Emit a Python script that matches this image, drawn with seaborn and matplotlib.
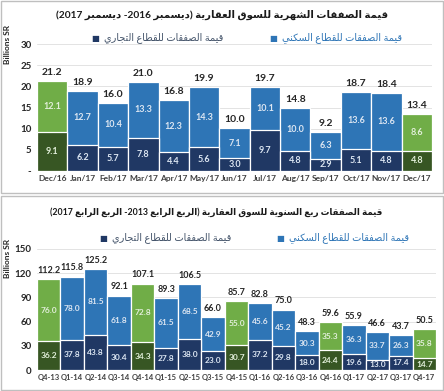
import matplotlib
matplotlib.use("Agg")
import matplotlib.pyplot as plt
import seaborn as sns
import pandas as pd
from matplotlib.patches import Rectangle

# ---------------- data ----------------
months = ['Dec/16', 'Jan/17', 'Feb/17', 'Mar/17', 'Apr/17', 'May/17', 'Jun/17',
          'Jul/17', 'Aug/17', 'Sep/17', 'Oct/17', 'Nov/17', 'Dec/17']
monthly_commercial = [9.1, 6.2, 5.7, 7.8, 4.4, 5.6, 3.0, 9.7, 4.8, 2.9, 5.1, 4.8, 4.8]
monthly_residential = [12.1, 12.7, 10.4, 13.3, 12.3, 14.3, 7.1, 10.1, 10.0, 6.3, 13.6, 13.6, 8.6]
monthly_total = [21.2, 18.9, 16.0, 21.0, 16.8, 19.9, 10.0, 19.7, 14.8, 9.2, 18.7, 18.4, 13.4]

quarters = ['Q4-13', 'Q1-14', 'Q2-14', 'Q3-14', 'Q4-14', 'Q1-15', 'Q2-15', 'Q3-15',
            'Q4-15', 'Q1-16', 'Q2-16', 'Q3-16', 'Q4-16', 'Q1-17', 'Q2-17', 'Q3-17', 'Q4-17']
quarterly_commercial = [36.2, 37.8, 43.8, 30.4, 34.3, 27.8, 38.0, 23.0, 30.7, 37.2,
                        29.8, 18.0, 24.4, 19.6, 13.0, 17.4, 14.7]
quarterly_residential = [76.0, 78.0, 81.5, 61.8, 72.8, 61.5, 68.5, 42.9, 55.0, 45.6,
                         45.2, 30.3, 35.3, 36.3, 33.7, 26.3, 35.8]
quarterly_total = [112.2, 115.8, 125.2, 92.1, 107.1, 89.3, 106.5, 66.0, 85.7, 82.8,
                   75.0, 48.3, 59.6, 55.9, 46.6, 43.7, 50.5]

title_monthly = "قيمة الصفقات الشهرية للسوق العقارية (ديسمبر 2016- ديسمبر 2017)"
title_quarterly = "قيمة الصفقات ربع السنوية للسوق العقارية (الربع الرابع 2013- الربع الرابع 2017)"
label_residential = "قيمة الصفقات للقطاع السكني"
label_commercial = "قيمة الصفقات للقطاع التجاري"
y_label = "Billions SR"
monthly_yticks = [0, 5, 10, 15, 20, 25, 30]
monthly_yticklabels = ['-', '5', '10', '15', '20', '25', '30']
quarterly_yticks = [0, 30, 60, 90, 120, 150]
quarterly_yticklabels = ['0', '30', '60', '90', '120', '150']

# ---------------- Arabic shaping (presentation forms) ----------------
FORMS = {  # isolated, final, initial, medial
    'ا': ('\uFE8D', '\uFE8E', None, None),
    'ب': ('\uFE8F', '\uFE90', '\uFE91', '\uFE92'),
    'ة': ('\uFE93', '\uFE94', None, None),
    'ت': ('\uFE95', '\uFE96', '\uFE97', '\uFE98'),
    'ج': ('\uFE9D', '\uFE9E', '\uFE9F', '\uFEA0'),
    'د': ('\uFEA9', '\uFEAA', None, None),
    'ر': ('\uFEAD', '\uFEAE', None, None),
    'س': ('\uFEB1', '\uFEB2', '\uFEB3', '\uFEB4'),
    'ش': ('\uFEB5', '\uFEB6', '\uFEB7', '\uFEB8'),
    'ص': ('\uFEB9', '\uFEBA', '\uFEBB', '\uFEBC'),
    'ط': ('\uFEC1', '\uFEC2', '\uFEC3', '\uFEC4'),
    'ع': ('\uFEC9', '\uFECA', '\uFECB', '\uFECC'),
    'ف': ('\uFED1', '\uFED2', '\uFED3', '\uFED4'),
    'ق': ('\uFED5', '\uFED6', '\uFED7', '\uFED8'),
    'ك': ('\uFED9', '\uFEDA', '\uFEDB', '\uFEDC'),
    'ل': ('\uFEDD', '\uFEDE', '\uFEDF', '\uFEE0'),
    'م': ('\uFEE1', '\uFEE2', '\uFEE3', '\uFEE4'),
    'ن': ('\uFEE5', '\uFEE6', '\uFEE7', '\uFEE8'),
    'ه': ('\uFEE9', '\uFEEA', '\uFEEB', '\uFEEC'),
    'و': ('\uFEED', '\uFEEE', None, None),
    'ي': ('\uFEF1', '\uFEF2', '\uFEF3', '\uFEF4'),
}


def shape_rtl(s):
    out = []
    n = len(s)
    for i, c in enumerate(s):
        if c not in FORMS:
            out.append(c)
            continue
        prev_c = s[i - 1] if i > 0 else ''
        next_c = s[i + 1] if i < n - 1 else ''
        prev_join = prev_c in FORMS and FORMS[prev_c][2] is not None
        can_next = FORMS[c][2] is not None
        next_join = can_next and next_c in FORMS
        iso, fin, ini, med = FORMS[c]
        if prev_join and next_join:
            out.append(med)
        elif prev_join:
            out.append(fin)
        elif next_join:
            out.append(ini)
        else:
            out.append(iso)
    vis = ''.join(out)[::-1]
    res, buf = [], []
    for ch in vis:
        if ch.isdigit():
            buf.append(ch)
        else:
            if buf:
                res.append(''.join(buf[::-1]))
                buf = []
            res.append({'(': ')', ')': '('}.get(ch, ch))
    if buf:
        res.append(''.join(buf[::-1]))
    return ''.join(res)


# ---------------- style ----------------
sns.set_theme(style="white")
plt.rcParams['font.family'] = ['Lato', 'DejaVu Sans']

C_COMM = '#203864'
C_RES = '#2e75b6'
C_GRES = '#70ad47'
C_GCOMM = '#375623'
TXT_DARK = '#262626'

fig = plt.figure(figsize=(4.44, 3.91), dpi=100)
W, H = 444.0, 391.0

fig.patches.append(Rectangle((1 / W, 1 - 193 / H), 442 / W, 192 / H, transform=fig.transFigure,
                             fill=False, edgecolor='#bfbfbf', linewidth=1.0))
fig.patches.append(Rectangle((1 / W, 1 / H), 442 / W, 194 / H, transform=fig.transFigure,
                             fill=False, edgecolor='#bfbfbf', linewidth=1.0))


def panel(ax, cats, comm, res, tot, highlight, yticks, yticklabels, ymax,
          fs_in, fs_tot, fs_x):
    stacked = [a + b for a, b in zip(comm, res)]
    res_cols = [C_GRES if h else C_RES for h in highlight]
    comm_cols = [C_GCOMM if h else C_COMM for h in highlight]
    df = pd.DataFrame({'cat': cats, 'stack': stacked, 'comm': comm})
    sns.barplot(data=df, x='cat', y='stack', hue='cat', palette=res_cols, width=1.0,
                saturation=1, edgecolor='white', linewidth=0.9, legend=False, ax=ax,
                zorder=2)
    sns.barplot(data=df, x='cat', y='comm', hue='cat', palette=comm_cols, width=1.0,
                saturation=1, edgecolor='white', linewidth=0.9, legend=False, ax=ax,
                zorder=3)
    for i in range(len(cats)):
        inner = '#e2efda' if highlight[i] else '#dce6f2'
        ax.text(i, comm[i] / 2, f"{comm[i]:.1f}", ha='center', va='center',
                fontsize=fs_in, color=inner, fontweight='bold', zorder=5)
        ax.text(i, comm[i] + res[i] / 2, f"{res[i]:.1f}", ha='center', va='center',
                fontsize=fs_in, color=inner, fontweight='bold', zorder=5)
        ax.annotate(f"{tot[i]:.1f}", (i, stacked[i]), xytext=(0, 3),
                    textcoords='offset points', ha='center', va='bottom',
                    fontsize=fs_tot, color=TXT_DARK, fontweight='bold')
    ax.set_xlim(-0.5, len(cats) - 0.5)
    ax.set_ylim(0, ymax)
    ax.set_yticks(yticks)
    ax.set_yticklabels(yticklabels, fontsize=7, fontweight='bold', color=TXT_DARK)
    ax.set_xticks(range(len(cats)))
    ax.set_xticklabels(cats, fontsize=fs_x, fontweight='bold', color='#404040')
    ax.tick_params(length=0, pad=3)
    ax.tick_params(axis='y', pad=4)
    ax.set_xlabel('')
    ax.set_ylabel('')
    for sp in ax.spines.values():
        sp.set_visible(False)
    ax.grid(axis='y', color='#e3e3e3', linewidth=0.7, zorder=0)
    ax.set_axisbelow(True)


ax1 = fig.add_axes([37 / W, 1 - 171 / H, 395 / W, 127 / H])
panel(ax1, months, monthly_commercial, monthly_residential, monthly_total,
      [m.startswith('Dec') for m in months], monthly_yticks, monthly_yticklabels, 30,
      6.5, 7.5, 6.0)

ax2 = fig.add_axes([37 / W, 1 - 370 / H, 399 / W, 121 / H])
panel(ax2, quarters, quarterly_commercial, quarterly_residential, quarterly_total,
      [q.startswith('Q4') for q in quarters], quarterly_yticks, quarterly_yticklabels, 150,
      6.0, 6.5, 5.5)

renderer = fig.canvas.get_renderer()


def fitted_text(x, y, s, target_w, **kw):
    t = fig.text(x / W, 1 - y / H, s, **kw)
    w = t.get_window_extent(renderer=renderer).width
    t.set_fontsize(t.get_fontsize() * target_w / w)
    return t


fitted_text(222, 15, shape_rtl(title_monthly), 333, ha='center', va='center',
            fontsize=10, fontweight='bold', color='#1a1a1a')
fitted_text(216, 212, shape_rtl(title_quarterly), 332, ha='center', va='center',
            fontsize=10, fontweight='bold', color='#1a1a1a')


def legend_row(y, x_comm_sq, x_res_sq):
    fig.text(x_comm_sq / W, 1 - y / H, '■', ha='center', va='center', fontsize=6,
             color=C_COMM, family='DejaVu Sans')
    fig.text((x_comm_sq + 9) / W, 1 - y / H, shape_rtl(label_commercial), ha='left',
             va='center', fontsize=7, color='#44546a')
    fig.text(x_res_sq / W, 1 - y / H, '■', ha='center', va='center', fontsize=6,
             color=C_RES, family='DejaVu Sans')
    fig.text((x_res_sq + 9) / W, 1 - y / H, shape_rtl(label_residential), ha='left',
             va='center', fontsize=7, color=C_RES)


legend_row(38, 95, 273)
legend_row(238, 103, 280)

fig.text(8 / W, 1 - 44 / H, y_label, rotation=90, ha='center', va='center',
         fontsize=6, fontweight='bold', color=TXT_DARK)
fig.text(8 / W, 1 - 258 / H, y_label, rotation=90, ha='center', va='center',
         fontsize=6, fontweight='bold', color=TXT_DARK)

fig.savefig('out.png', dpi=100)
